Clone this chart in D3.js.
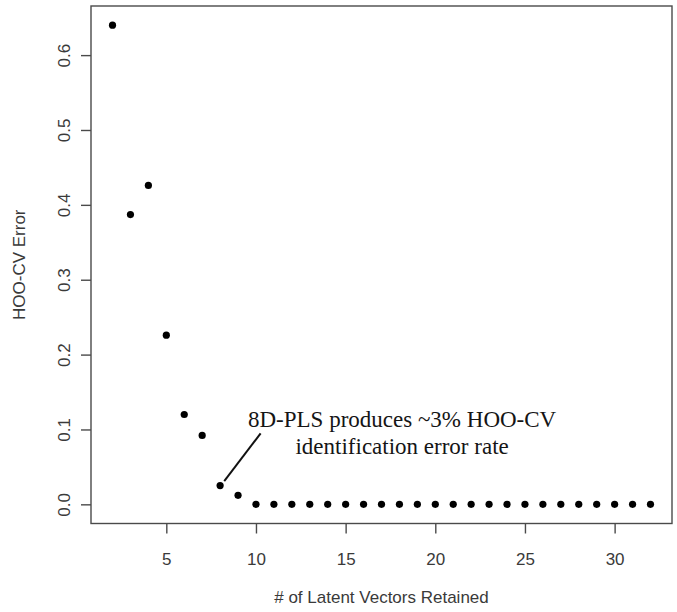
<!DOCTYPE html>
<html>
<head>
<meta charset="utf-8">
<script src="https://cdn.jsdelivr.net/npm/d3@7"></script>
<style>
  html, body { margin: 0; padding: 0; background: #fff; }
  svg { display: block; }
</style>
</head>
<body>
<svg id="chart" width="677" height="612"></svg>
<script>
// ---- data ----
const latentVectors = [2,3,4,5,6,7,8,9,10,11,12,13,14,15,16,17,18,19,20,21,22,23,24,25,26,27,28,29,30,31,32];
const hooCvError   = [0.640,0.387,0.426,0.226,0.120,0.092,0.025,0.012,
                      0,0,0,0,0,0,0,0,0,0,0,0,0,0,0,0,0,0,0,0,0,0,0];
const xTickValues = [5,10,15,20,25,30];
const yTickValues = [0,0.1,0.2,0.3,0.4,0.5,0.6];
const xTitle = "# of Latent Vectors Retained";
const yTitle = "HOO-CV Error";
const noteLines = ["8D-PLS produces ~3% HOO-CV", "identification error rate"];
const notePointer = [[8.23, 0.031], [10.26, 0.0948]];
const noteAnchor = [18.15, 0.103];

// ---- layout ----
const box = { left: 91, right: 672, top: 6, bottom: 523.5 };
const svg = d3.select("#chart");
const axisColor = "#4a4a4a";
const textColor = "#3a3a3a";
const sans = "'Liberation Sans', Arial, sans-serif";

// R-style 4% expansion
function pad(ext) { const d = (ext[1]-ext[0])*0.04; return [ext[0]-d, ext[1]+d]; }
const x = d3.scaleLinear().domain(pad(d3.extent(latentVectors))).range([box.left, box.right]);
const y = d3.scaleLinear().domain(pad(d3.extent(hooCvError))).range([box.bottom, box.top]);

// box
svg.append("rect")
  .attr("x", box.left).attr("y", box.top)
  .attr("width", box.right - box.left).attr("height", box.bottom - box.top)
  .attr("fill", "none").attr("stroke", axisColor).attr("stroke-width", 1.4);

// x axis
const gx = svg.append("g")
  .attr("transform", `translate(0,${box.bottom})`)
  .call(d3.axisBottom(x).tickValues(xTickValues).tickSize(10).tickSizeOuter(0).tickPadding(19.4).tickFormat(d3.format("d")));
gx.select(".domain").remove();
gx.selectAll("line").attr("stroke", axisColor).attr("stroke-width", 1.4);
gx.selectAll("text").attr("fill", textColor).style("font-family", sans).style("font-size", "17px");

// y axis
const gy = svg.append("g")
  .attr("transform", `translate(${box.left},0)`)
  .call(d3.axisLeft(y).tickValues(yTickValues).tickSize(10).tickSizeOuter(0).tickFormat(d3.format(".1f")));
gy.select(".domain").remove();
gy.selectAll("line").attr("stroke", axisColor).attr("stroke-width", 1.4);
gy.selectAll("text")
  .attr("x", null).attr("dy", null)
  .attr("transform", `translate(${69.5 - box.left},0) rotate(-90)`)
  .attr("text-anchor", "middle")
  .attr("fill", textColor).style("font-family", sans).style("font-size", "17px");

// axis titles
svg.append("text")
  .attr("x", (box.left + box.right) / 2).attr("y", 603)
  .attr("text-anchor", "middle")
  .attr("fill", textColor).style("font-family", sans).style("font-size", "17px")
  .text(xTitle);
svg.append("text")
  .attr("transform", `translate(25,${(box.top + box.bottom) / 2}) rotate(-90)`)
  .attr("text-anchor", "middle")
  .attr("fill", textColor).style("font-family", sans).style("font-size", "17px")
  .text(yTitle);

// points
svg.append("g").selectAll("circle")
  .data(latentVectors.map((v, i) => [v, hooCvError[i]]))
  .join("circle")
  .attr("cx", d => x(d[0])).attr("cy", d => y(d[1]))
  .attr("r", 3.6).attr("fill", "#000");

// annotation pointer
svg.append("line")
  .attr("x1", x(notePointer[0][0])).attr("y1", y(notePointer[0][1]))
  .attr("x2", x(notePointer[1][0])).attr("y2", y(notePointer[1][1]))
  .attr("stroke", "#111").attr("stroke-width", 2);

// annotation text
const note = svg.append("text")
  .attr("x", x(noteAnchor[0])).attr("y", y(noteAnchor[1]))
  .attr("text-anchor", "middle")
  .attr("fill", "#151515")
  .style("font-family", "'Liberation Serif', 'Times New Roman', serif")
  .style("font-size", "23px");
note.selectAll("tspan").data(noteLines).join("tspan")
  .attr("x", x(noteAnchor[0])).attr("dy", (d, i) => i === 0 ? 0 : 26.5)
  .text(d => d);
</script>
</body>
</html>
